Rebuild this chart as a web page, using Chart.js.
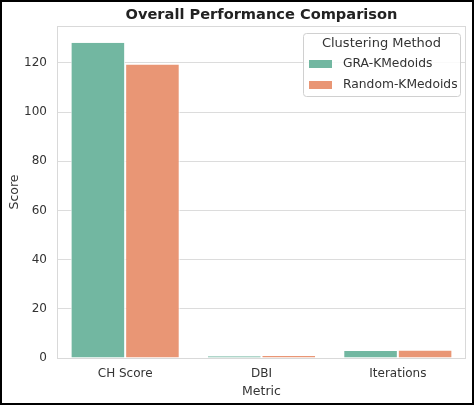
<!DOCTYPE html>
<html>
<head>
<meta charset="utf-8">
<script src="https://cdn.jsdelivr.net/npm/chart.js@4"></script>
<style>
html,body{margin:0;padding:0;background:#fff;}
#wrap{width:474px;height:408px;position:relative;}
</style>
</head>
<body>
<div id="wrap"><canvas id="c" width="474" height="408"></canvas></div>
<script>
const categories = ["CH Score", "DBI", "Iterations"];
const seriesNames = ["GRA-KMedoids", "Random-KMedoids"];
const graValues = [128.2, 0.72, 2.8];
const randomValues = [119.3, 0.78, 3.1];
const yTicks = [0, 20, 40, 60, 80, 100, 120];
const chartTitle = "Overall Performance Comparison";
const legendTitle = "Clustering Method";
const xTitle = "Metric";
const yTitle = "Score";

const colors = ["#72b7a1", "#e99675"];
const FONT = "'DejaVu Sans', sans-serif";

const decor = {
  id: 'decor',
  beforeDraw(chart) {
    const ctx = chart.ctx;
    ctx.save();
    ctx.fillStyle = '#fff';
    ctx.fillRect(0, 0, chart.width, chart.height);
    ctx.restore();
  },
  afterDraw(chart) {
    const ctx = chart.ctx;
    const a = chart.chartArea;
    ctx.save();
    // plot frame
    ctx.strokeStyle = '#d9d9d9';
    ctx.lineWidth = 1;
    ctx.strokeRect(a.left + 0.5, a.top + 0.5, a.right - a.left - 1, a.bottom - a.top);
    // title
    ctx.fillStyle = '#222';
    ctx.font = "bold 14.6px " + FONT;
    ctx.textAlign = 'center';
    ctx.textBaseline = 'middle';
    ctx.fillText(chartTitle, (a.left + a.right) / 2, 15);
    // legend box
    const lx = 303, ly = 33, lw = 157, lh = 63;
    ctx.fillStyle = 'rgba(255,255,255,0.85)';
    ctx.strokeStyle = '#d0d0d0';
    ctx.beginPath();
    if (ctx.roundRect) ctx.roundRect(lx + 0.5, ly + 0.5, lw, lh, 3); else ctx.rect(lx + 0.5, ly + 0.5, lw, lh);
    ctx.fill();
    ctx.stroke();
    ctx.fillStyle = '#333';
    ctx.font = "13px " + FONT;
    ctx.textAlign = 'center';
    ctx.fillText(legendTitle, lx + lw / 2, 44);
    ctx.font = "12.3px " + FONT;
    chart.data.datasets.forEach((ds, i) => {
      const y = 64 + i * 21;
      ctx.fillStyle = ds.backgroundColor;
      ctx.fillRect(309, y - 4, 23, 8);
      ctx.fillStyle = '#333';
      ctx.textAlign = 'left';
      ctx.fillText(ds.label, 343, y);
    });
    // outer frame
    ctx.strokeStyle = '#000';
    ctx.lineWidth = 2;
    ctx.strokeRect(1, 1, 472, 403);
    ctx.restore();
  }
};

new Chart(document.getElementById('c'), {
  type: 'bar',
  data: {
    labels: categories,
    datasets: [
      { label: seriesNames[0], data: graValues, backgroundColor: colors[0], borderColor: '#fff', borderWidth: { left: 1, right: 1, top: 0, bottom: 0 } },
      { label: seriesNames[1], data: randomValues, backgroundColor: colors[1], borderColor: '#fff', borderWidth: { left: 1, right: 1, top: 0, bottom: 0 } }
    ]
  },
  options: {
    responsive: false,
    animation: false,
    devicePixelRatio: 1,
    layout: { padding: { left: 0, top: 26, right: 8, bottom: 0 } },
    plugins: { legend: { display: false }, title: { display: false }, tooltip: { enabled: false } },
    datasets: { bar: { categoryPercentage: 0.8, barPercentage: 1.0 } },
    scales: {
      x: {
        grid: { display: false, drawTicks: false },
        border: { display: false },
        ticks: { color: '#333', font: { family: FONT, size: 12 }, padding: 9 },
        title: { display: true, text: xTitle, color: '#333', font: { family: FONT, size: 12.5 }, padding: { top: 0, bottom: 9 } },
        afterFit(s) { s.height = 50; }
      },
      y: {
        min: 0, max: 135,
        afterBuildTicks(s) { s.ticks = yTicks.map(v => ({ value: v })); },
        grid: { color: '#dcdcdc', drawTicks: false, lineWidth: 1 },
        border: { display: false },
        ticks: { color: '#333', font: { family: FONT, size: 12 }, padding: 10 },
        title: { display: true, text: yTitle, color: '#333', font: { family: FONT, size: 12.5 }, padding: { top: 7, bottom: 0 } },
        afterFit(s) { s.width = 57; }
      }
    }
  },
  plugins: [decor]
});
</script>
</body>
</html>
